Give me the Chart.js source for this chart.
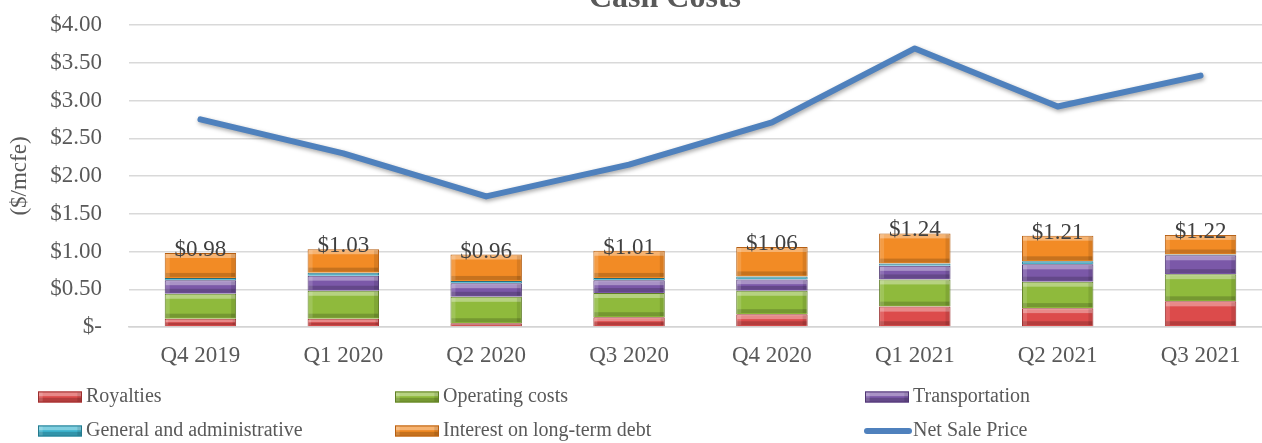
<!DOCTYPE html>
<html>
<head>
<meta charset="utf-8">
<script src="https://cdn.jsdelivr.net/npm/chart.js@4/dist/chart.umd.min.js"></script>
<style>
    html, body { margin: 0; padding: 0; background: #ffffff; overflow: hidden; }
    #wrap { width: 1272px; height: 443px; }
</style>
</head>
<body>
<div id="wrap"><canvas id="cashChart" width="1272" height="443"></canvas></div>
<script>
// Chart data
const quarters = ['Q4 2019', 'Q1 2020', 'Q2 2020', 'Q3 2020', 'Q4 2020', 'Q1 2021', 'Q2 2021', 'Q3 2021'];
const royalties = [0.11, 0.11, 0.05, 0.13, 0.17, 0.27, 0.25, 0.34];
const operatingCosts = [0.33, 0.37, 0.35, 0.32, 0.31, 0.36, 0.35, 0.36];
const transportation = [0.18, 0.20, 0.18, 0.17, 0.15, 0.18, 0.23, 0.25];
const generalAdmin = [0.03, 0.04, 0.03, 0.03, 0.04, 0.03, 0.04, 0.01];
const interestDebt = [0.33, 0.31, 0.35, 0.36, 0.39, 0.40, 0.34, 0.26];
const totalCost = [0.98, 1.03, 0.96, 1.01, 1.06, 1.24, 1.21, 1.22];
const netSalePrice = [2.75, 2.30, 1.73, 2.15, 2.71, 3.69, 2.92, 3.33];
const yTicks = [0, 0.5, 1.0, 1.5, 2.0, 2.5, 3.0, 3.5, 4.0];

const FONT = '"Liberation Serif", "Times New Roman", serif';
const GREY = '#595959';

function barSet(label, data, fill, edge) {
    return {
        type: 'bar',
        label: label,
        data: data,
        backgroundColor: fill,
        borderColor: edge,
        borderWidth: 1,
        stack: 'cost',
        categoryPercentage: 1.0,
        barPercentage: 0.5,
        order: 2
    };
}

// Draws a beveled box (used for bars and legend swatches)
function bevel(ctx, x, y, w, h) {
    if (h < 2) return;
    const e = Math.min(4, h / 3);
    ctx.save();
    ctx.fillStyle = 'rgba(255,255,255,0.35)';
    ctx.fillRect(x + 1, y + 1, w - 2, e);
    ctx.fillStyle = 'rgba(0,0,0,0.18)';
    ctx.fillRect(x + 1, y + h - e - 1, w - 2, e);
    ctx.fillStyle = 'rgba(255,255,255,0.15)';
    ctx.fillRect(x + 1, y + 1, e, h - 2);
    ctx.fillStyle = 'rgba(0,0,0,0.10)';
    ctx.fillRect(x + w - e - 1, y + 1, e, h - 2);
    ctx.restore();
}

const bevelPlugin = {
    id: 'bevel',
    afterDatasetDraw(chart, args) {
        const ds = chart.data.datasets[args.index];
        if (ds.type !== 'bar') return;
        const ctx = chart.ctx;
        args.meta.data.forEach(bar => {
            const p = bar.getProps(['x', 'y', 'base', 'width'], true);
            bevel(ctx, p.x - p.width / 2, p.y, p.width, p.base - p.y);
        });
    }
};

// soft shadow under the price line
const shadowPlugin = {
    id: 'lineShadow',
    beforeDatasetDraw(chart, args) {
        if (chart.data.datasets[args.index].type !== 'line') return;
        const ctx = chart.ctx;
        ctx.save();
        ctx.shadowColor = 'rgba(0,0,0,0.35)';
        ctx.shadowBlur = 4;
        ctx.shadowOffsetX = 1;
        ctx.shadowOffsetY = 2;
    },
    afterDatasetDraw(chart, args) {
        if (chart.data.datasets[args.index].type !== 'line') return;
        chart.ctx.restore();
    }
};

// total labels above each stacked bar, title and 3-column legend
const textPlugin = {
    id: 'texts',
    afterDraw(chart) {
        const ctx = chart.ctx;
        const xs = chart.scales.x;
        const ys = chart.scales.y;

        ctx.save();
        ctx.fillStyle = '#404040';
        ctx.font = '23px ' + FONT;
        ctx.textAlign = 'center';
        ctx.textBaseline = 'middle';
        totalCost.forEach((t, i) => {
            ctx.fillText('$' + t.toFixed(2), xs.getPixelForValue(i), ys.getPixelForValue(t) - 3);
        });

        ctx.fillStyle = GREY;
        ctx.font = 'bold 32px ' + FONT;
        ctx.textBaseline = 'alphabetic';
        ctx.fillText('Cash Costs', 665, 7);

        // legend
        const cols = [38, 395, 865];
        const rows = [397, 431];
        ctx.font = '20px ' + FONT;
        ctx.textAlign = 'left';
        ctx.textBaseline = 'middle';
        chart.data.datasets.forEach((ds, i) => {
            const x = cols[i % 3];
            const y = rows[Math.floor(i / 3)];
            if (ds.type === 'bar') {
                ctx.fillStyle = ds.backgroundColor;
                ctx.fillRect(x, y - 5.5, 44, 11);
                ctx.strokeStyle = ds.borderColor;
                ctx.lineWidth = 1;
                ctx.strokeRect(x + 0.5, y - 5, 43, 10);
                bevel(ctx, x, y - 5.5, 44, 11);
            } else {
                ctx.strokeStyle = ds.borderColor;
                ctx.lineWidth = 6;
                ctx.lineCap = 'round';
                ctx.beginPath();
                ctx.moveTo(x + 2, y);
                ctx.lineTo(x + 44, y);
                ctx.stroke();
            }
            ctx.fillStyle = GREY;
            ctx.fillText(ds.label, x + 48, y);
        });
        ctx.restore();
    }
};

const chart = new Chart(document.getElementById('cashChart'), {
    data: {
        labels: quarters,
        datasets: [
            barSet('Royalties', royalties, '#dc4b4b', '#9a2e2e'),
            barSet('Operating costs', operatingCosts, '#8fba3c', '#5e7d25'),
            barSet('Transportation', transportation, '#7b58a8', '#4e3570'),
            barSet('General and administrative', generalAdmin, '#3db5d0', '#24798c'),
            barSet('Interest on long-term debt', interestDebt, '#f28b25', '#b55e12'),
            {
                type: 'line',
                label: 'Net Sale Price',
                data: netSalePrice,
                borderColor: '#4f81bd',
                backgroundColor: '#4f81bd',
                borderWidth: 6,
                borderCapStyle: 'round',
                borderJoinStyle: 'round',
                pointRadius: 0,
                tension: 0,
                order: 1
            }
        ]
    },
    options: {
        responsive: false,
        animation: false,
        layout: { padding: { top: 25, bottom: 76, left: 0, right: 0 } },
        plugins: {
            legend: { display: false },
            title: { display: false },
            tooltip: { enabled: false }
        },
        scales: {
            x: {
                stacked: true,
                offset: true,
                grid: { display: false, drawTicks: false },
                border: { display: true, color: '#d4d4d4', width: 1.5 },
                ticks: { color: GREY, font: { family: FONT, size: 23 }, padding: 15, maxRotation: 0 },
                afterFit(scale) { scale.height = 40; }
            },
            y: {
                stacked: true,
                min: 0,
                max: 4,
                afterBuildTicks(scale) { scale.ticks = yTicks.map(v => ({ value: v })); },
                grid: { color: '#d9d9d9', lineWidth: 1.5, drawTicks: false },
                border: { display: false },
                ticks: {
                    color: GREY,
                    font: { family: FONT, size: 23 },
                    padding: 27,
                    callback: v => v === 0 ? '$-' : '$' + v.toFixed(2)
                },
                title: {
                    display: true,
                    text: '($/mcfe)',
                    color: GREY,
                    font: { family: FONT, size: 23 },
                    padding: { top: 6, bottom: 0 }
                },
                afterFit(scale) {
                    // fixed axis width; drop the label padding so the plot can start at the top margin
                    scale.width = 129;
                    scale.paddingTop = 0;
                    scale.paddingBottom = 0;
                }
            }
        }
    },
    plugins: [bevelPlugin, shadowPlugin, textPlugin]
});
</script>
</body>
</html>
